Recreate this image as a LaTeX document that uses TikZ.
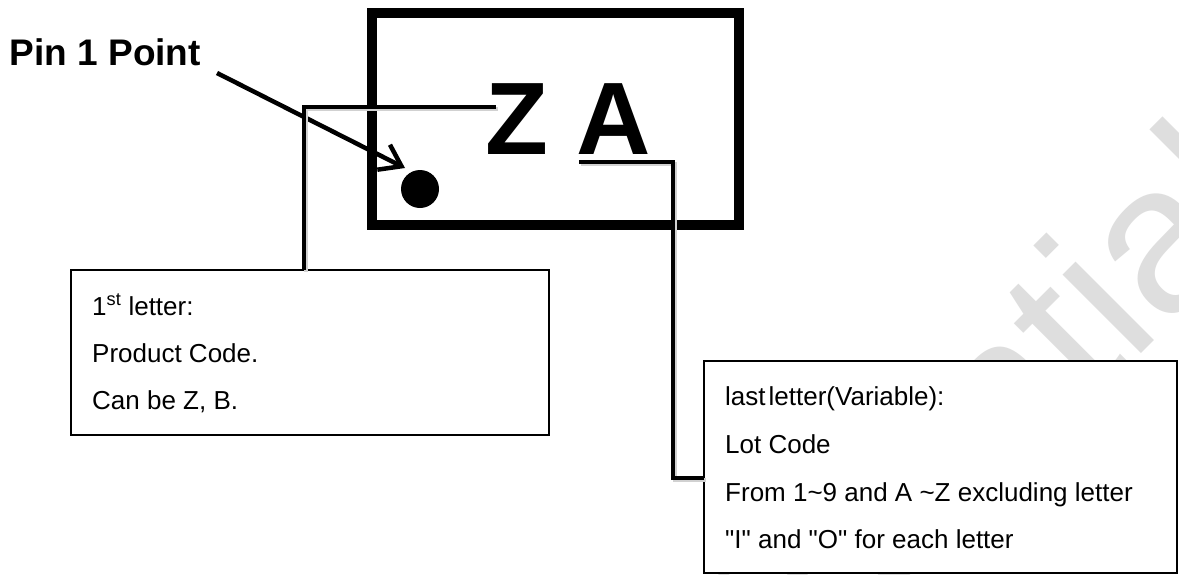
\documentclass[tikz,border=0pt]{standalone}
\usepackage{fontspec}
\setmainfont{Liberation Sans}[Ligatures=TeXOff]
\usetikzlibrary{arrows.meta,calc}
\tikzset{
  chipbox/.style={draw, line width=10pt, inner sep=0pt, outer sep=0pt, anchor=north west},
  notebox/.style={draw, fill=white, line width=1.6pt, inner sep=0pt, outer sep=0pt, anchor=north west},
  notetext/.style={anchor=base west, inner sep=0pt, font=\fontsize{26}{30}\selectfont},
  bigletter/.style={anchor=base west, inner sep=0pt, font=\fontsize{103}{110}\selectfont\bfseries},
  conn/.style={line width=4.5pt, line join=miter,
    preaction={draw=black!18, line width=4.5pt, transform canvas={shift={(2pt,-2pt)}}}},
  pinarrow/.style={line width=4.5pt, -{Straight Barb[length=20pt,width=28pt]}},
  wmark/.style={anchor=base west, inner sep=0pt, text=black!13, font=\fontsize{210}{210}\selectfont},
}
\begin{document}
\begin{tikzpicture}[x=1pt,y=-1pt]
\useasboundingbox (0,0) rectangle (1179,574);
\fill[white] (0,0) rectangle (1179,574);
% watermark
\begin{scope}
\clip (0,0) rectangle (1179,574);
\node[wmark, rotate=45] (wm) at (496,999) {Confidential};
\end{scope}
% chip
\node[chipbox, minimum width=367pt, minimum height=212pt] (chip) at (372,13) {};
\node[bigletter] (Z) at (485.6,154) {Z};
\node[bigletter] (A) at (576,154) {A};
\node[circle, fill, minimum size=38pt, inner sep=0pt] (pin) at (420,189) {};
% pin label
\node[anchor=base west, inner sep=0pt, font=\fontsize{37}{40}\selectfont\bfseries] (pinlbl) at (9.5,65) {Pin 1 Point};
\coordinate (arS) at (217,73);
\coordinate (arE) at (405,168);
\draw[pinarrow] (arS) -- (arE);
% note boxes
\node[notebox, minimum width=478pt, minimum height=165pt] (boxL) at (71,270) {};
\node[notebox, minimum width=473pt, minimum height=212pt] (boxR) at (704,361) {};
% left connector
\coordinate (zL) at (496,107);
\coordinate (cL) at (304,107);
\draw[conn] (zL) -- (cL) -- (cL |- boxL.north);
% right connector
\coordinate (aB) at (579,162);
\coordinate (cR) at (673,162);
\coordinate (cR2) at (673,478);
\draw[conn] (aB) -- (cR) -- (cR2) -- (cR2 -| boxR.west);
% texts left
\node[notetext] (l1) at (92,315) {1\textsuperscript{st} letter:};
\node[notetext] (l2) at (92,362) {Product Code.};
\node[notetext] (l3) at (92,409) {Can be Z, B.};
% texts right
\node[notetext] (r1) at (725,405) {last\hspace{3pt}letter(Variable):};
\node[notetext] (r2) at (725,453) {Lot Code};
\node[notetext] (r3) at (725,501) {From 1\textasciitilde 9 and A \textasciitilde Z excluding letter};
\node[notetext] (r4) at (725,548) {"I" and "O" for each letter};
\end{tikzpicture}
\end{document}
